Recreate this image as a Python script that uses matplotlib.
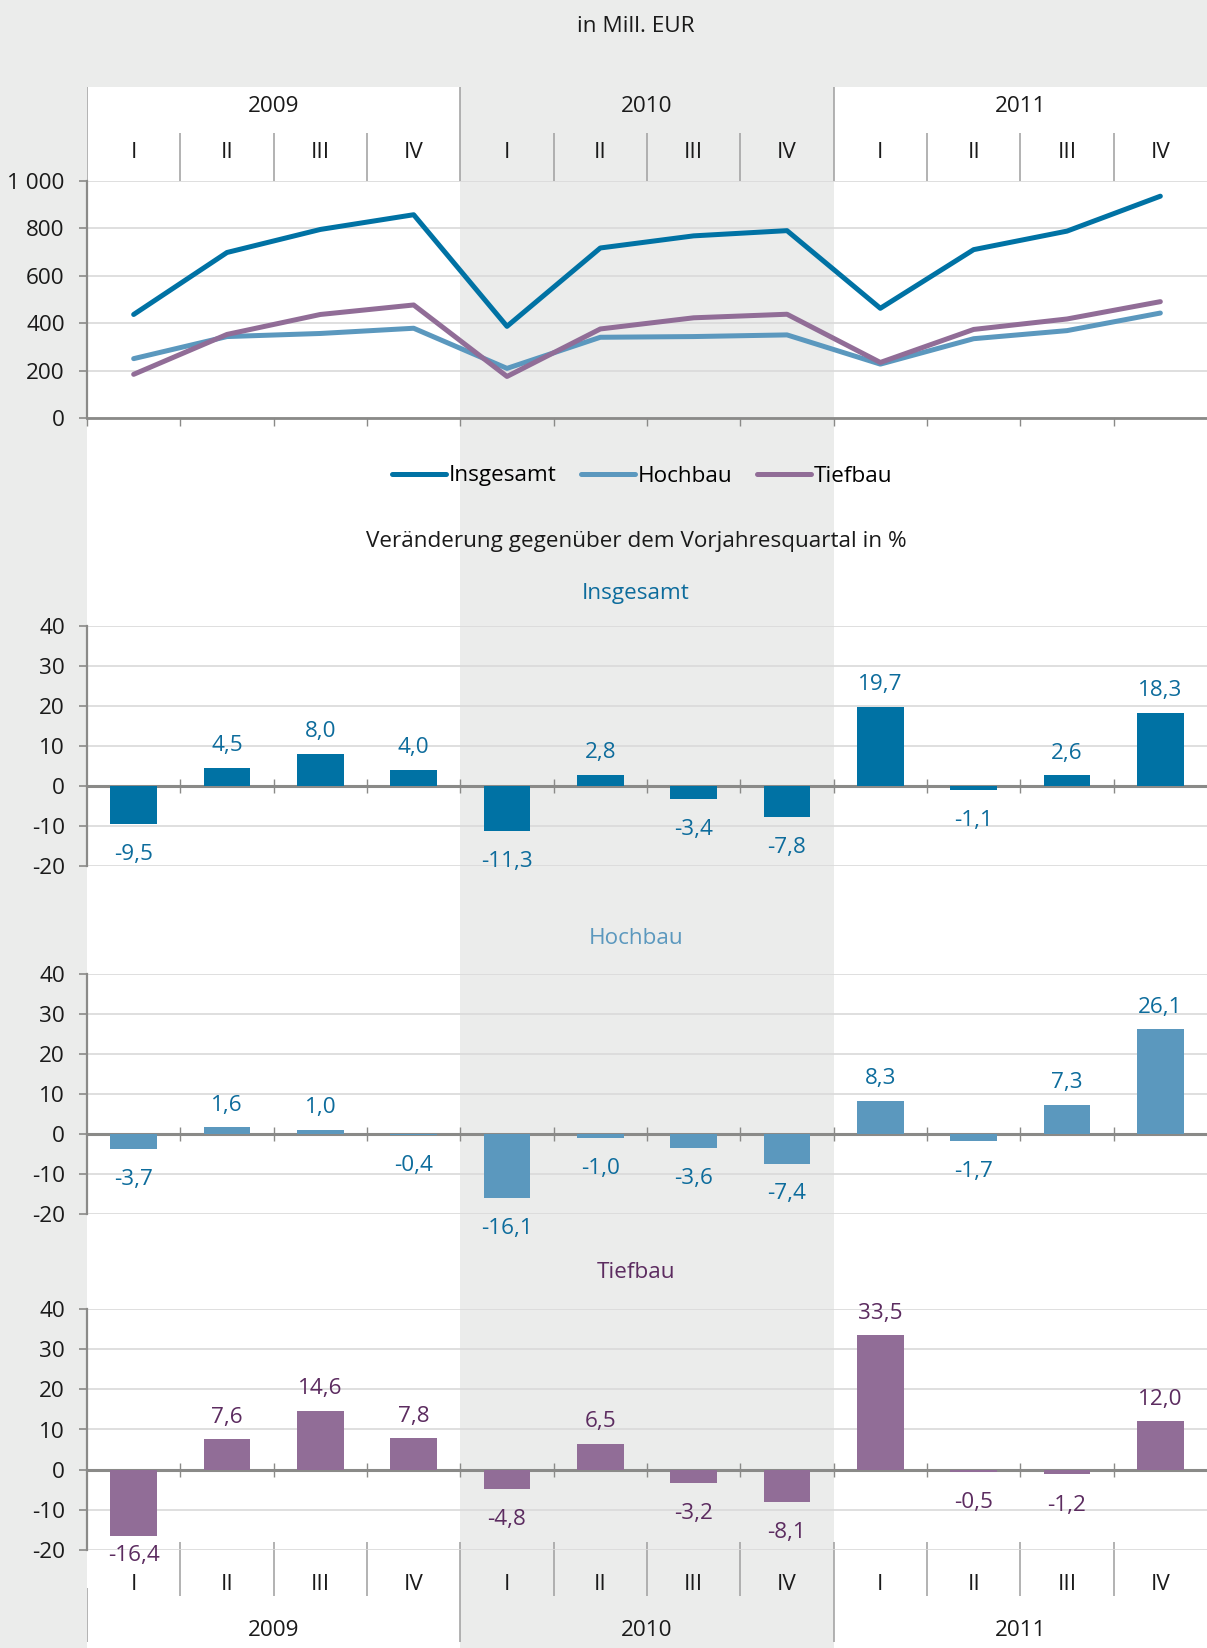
import matplotlib.pyplot as plt
import numpy as np

plt.rcParams['font.family'] = ['Open Sans', 'DejaVu Sans']

quarters = ['I', 'II', 'III', 'IV'] * 3
years = ['2009', '2010', '2011']

# Mill. EUR
insgesamt = [438, 699, 796, 858, 388, 718, 769, 791, 464, 711, 789, 936]
hochbau = [252, 345, 358, 380, 211, 342, 345, 352, 229, 336, 370, 444]
tiefbau = [186, 354, 438, 478, 177, 377, 424, 439, 236, 375, 419, 492]

# Veränderung gegenüber dem Vorjahresquartal in %
insgesamt_pct = [-9.5, 4.5, 8.0, 4.0, -11.3, 2.8, -3.4, -7.8, 19.7, -1.1, 2.6, 18.3]
hochbau_pct = [-3.7, 1.6, 1.0, -0.4, -16.1, -1.0, -3.6, -7.4, 8.3, -1.7, 7.3, 26.1]
tiefbau_pct = [-16.4, 7.6, 14.6, 7.8, -4.8, 6.5, -3.2, -8.1, 33.5, -0.5, -1.2, 12.0]

BG = '#ebeceb'
GRID = '#d9d9d9'
AX = '#8a8a88'
SEP = '#a5a5a5'
TEXT = '#1a1a1a'
C_INS = '#0072a4'
C_HOCH = '#5b98be'
C_TIEF = '#916d97'
LBL_BLUE = '#0d6c9c'
LBL_PURPLE = '#5c2c60'
FS = 16.2

W, H = 1207, 1648
fig = plt.figure(figsize=(W / 100, H / 100), dpi=100, facecolor=BG)


def box(left, top, right, bottom):
    return [left / W, 1 - bottom / H, (right - left) / W, (bottom - top) / H]


x = np.arange(len(quarters))

# background columns + header / footer category tables
bg = fig.add_axes(box(87, 0, 1207, H), zorder=-5)
bg.set_xlim(-0.5, 11.5)
bg.set_ylim(H, 0)
bg.axis('off')
for k in (0, 2):
    bg.axvspan(4 * k - 0.5, 4 * k + 3.5, ymin=0, ymax=(H - 87) / H, color='white', lw=0)

year_pos = [1.5, 5.5, 9.5]
year_edges = [-0.5, 3.5, 7.5]
q_edges = [b for b in np.arange(0.5, 11, 1) if b not in (3.5, 7.5)]

bg.vlines(year_edges, 87, 181, color=SEP, lw=1.2)
bg.vlines(q_edges, 133, 181, color=SEP, lw=1.2)
for xp, yr in zip(year_pos, years):
    bg.text(xp, 106, yr, ha='center', va='center', fontsize=FS, color=TEXT)
for xi, q in zip(x, quarters):
    bg.text(xi, 152, q, ha='center', va='center', fontsize=FS, color=TEXT)

bg.vlines(q_edges, 1542, 1596, color=SEP, lw=1.2)
bg.vlines([3.5, 7.5], 1542, 1642, color=SEP, lw=1.2)
bg.vlines([-0.5], 1588, 1642, color=SEP, lw=1.2)
for xi, q in zip(x, quarters):
    bg.text(xi, 1584, q, ha='center', va='center', fontsize=FS, color=TEXT)
for xp, yr in zip(year_pos, years):
    bg.text(xp, 1630, yr, ha='center', va='center', fontsize=FS, color=TEXT)

# top: values in Mill. EUR
fig.text(636 / W, 1 - 26 / H, 'in Mill. EUR', ha='center', va='center', fontsize=FS, color=TEXT)
ax0 = fig.add_axes(box(87, 181, 1207, 418.5))
ax0.patch.set_visible(False)
l1, = ax0.plot(x, insgesamt, color=C_INS, lw=3.6, solid_capstyle='round', label='Insgesamt')
l2, = ax0.plot(x, hochbau, color=C_HOCH, lw=3.6, solid_capstyle='round', label='Hochbau')
l3, = ax0.plot(x, tiefbau, color=C_TIEF, lw=3.6, solid_capstyle='round', label='Tiefbau')
ax0.set_xlim(-0.5, 11.5)
ax0.set_ylim(0, 1000)
ax0.set_yticks(range(0, 1001, 200))
ax0.set_yticklabels(['0', '200', '400', '600', '800', '1 000'])
ax0.grid(axis='y', color=GRID, lw=1.2)
ax0.set_axisbelow(True)
for s in ('top', 'right'):
    ax0.spines[s].set_visible(False)
ax0.spines['left'].set_color(AX)
ax0.spines['left'].set_linewidth(1.6)
ax0.spines['bottom'].set_color(AX)
ax0.spines['bottom'].set_linewidth(2)
ax0.set_xticks(np.arange(-0.5, 11, 1))
ax0.tick_params(axis='x', direction='out', length=6, width=1, color=AX, labelbottom=False)
ax0.tick_params(axis='y', length=6, width=1.2, color=AX, pad=10, labelsize=FS, labelcolor=TEXT)

fig.legend(handles=[l1, l2, l3], loc='center', bbox_to_anchor=(642 / W, 1 - 476 / H), ncol=3,
           frameon=False, handlelength=2.4, handletextpad=0.12, columnspacing=1.1, fontsize=FS)

fig.text(636 / W, 1 - 541 / H, 'Veränderung gegenüber dem Vorjahresquartal in %',
         ha='center', va='center', fontsize=FS, color=TEXT)


def bar_panel(top, bottom, values, color, label_color, title, title_color, title_y, floor=-40):
    ax = fig.add_axes(box(87, top, 1207, bottom))
    ax.patch.set_visible(False)
    ax.bar(x, values, width=0.5, color=color, zorder=2)
    ax.set_xlim(-0.5, 11.5)
    ax.set_ylim(-20, 40)
    ticks = list(range(-20, 41, 10))
    ax.set_yticks(ticks)
    ax.set_yticklabels([str(t) for t in ticks])
    ax.grid(axis='y', color=GRID, lw=1.2)
    ax.set_axisbelow(True)
    for s in ('top', 'right'):
        ax.spines[s].set_visible(False)
    ax.spines['left'].set_color(AX)
    ax.spines['left'].set_linewidth(1.6)
    ax.spines['bottom'].set_position(('data', 0))
    ax.spines['bottom'].set_color(AX)
    ax.spines['bottom'].set_linewidth(2.2)
    ax.spines['bottom'].set_zorder(1.5)
    ax.set_xticks(np.arange(0.5, 11, 1))
    ax.tick_params(axis='x', direction='inout', length=10, width=1, color=AX, labelbottom=False)
    ax.tick_params(axis='y', length=6, width=1.2, color=AX, pad=10, labelsize=FS, labelcolor=TEXT)
    for xi, v in zip(x, values):
        txt = f'{v:.1f}'.replace('.', ',')
        ly = v + 5.5 if v >= 0 else max(v - 7.6, floor)
        ax.text(xi, ly, txt, ha='center', va='center', fontsize=FS, color=label_color, clip_on=False)
    fig.text(636 / W, 1 - title_y / H, title, ha='center', va='center', fontsize=FS, color=title_color)
    return ax


bar_panel(625.6, 866, insgesamt_pct, C_INS, LBL_BLUE, 'Insgesamt', LBL_BLUE, 594)
bar_panel(973.6, 1214, hochbau_pct, C_HOCH, LBL_BLUE, 'Hochbau', C_HOCH, 938)
bar_panel(1309, 1550, tiefbau_pct, C_TIEF, LBL_PURPLE, 'Tiefbau', LBL_PURPLE, 1273, floor=-21.4)

fig.savefig('out.png', dpi=100, facecolor=BG)
